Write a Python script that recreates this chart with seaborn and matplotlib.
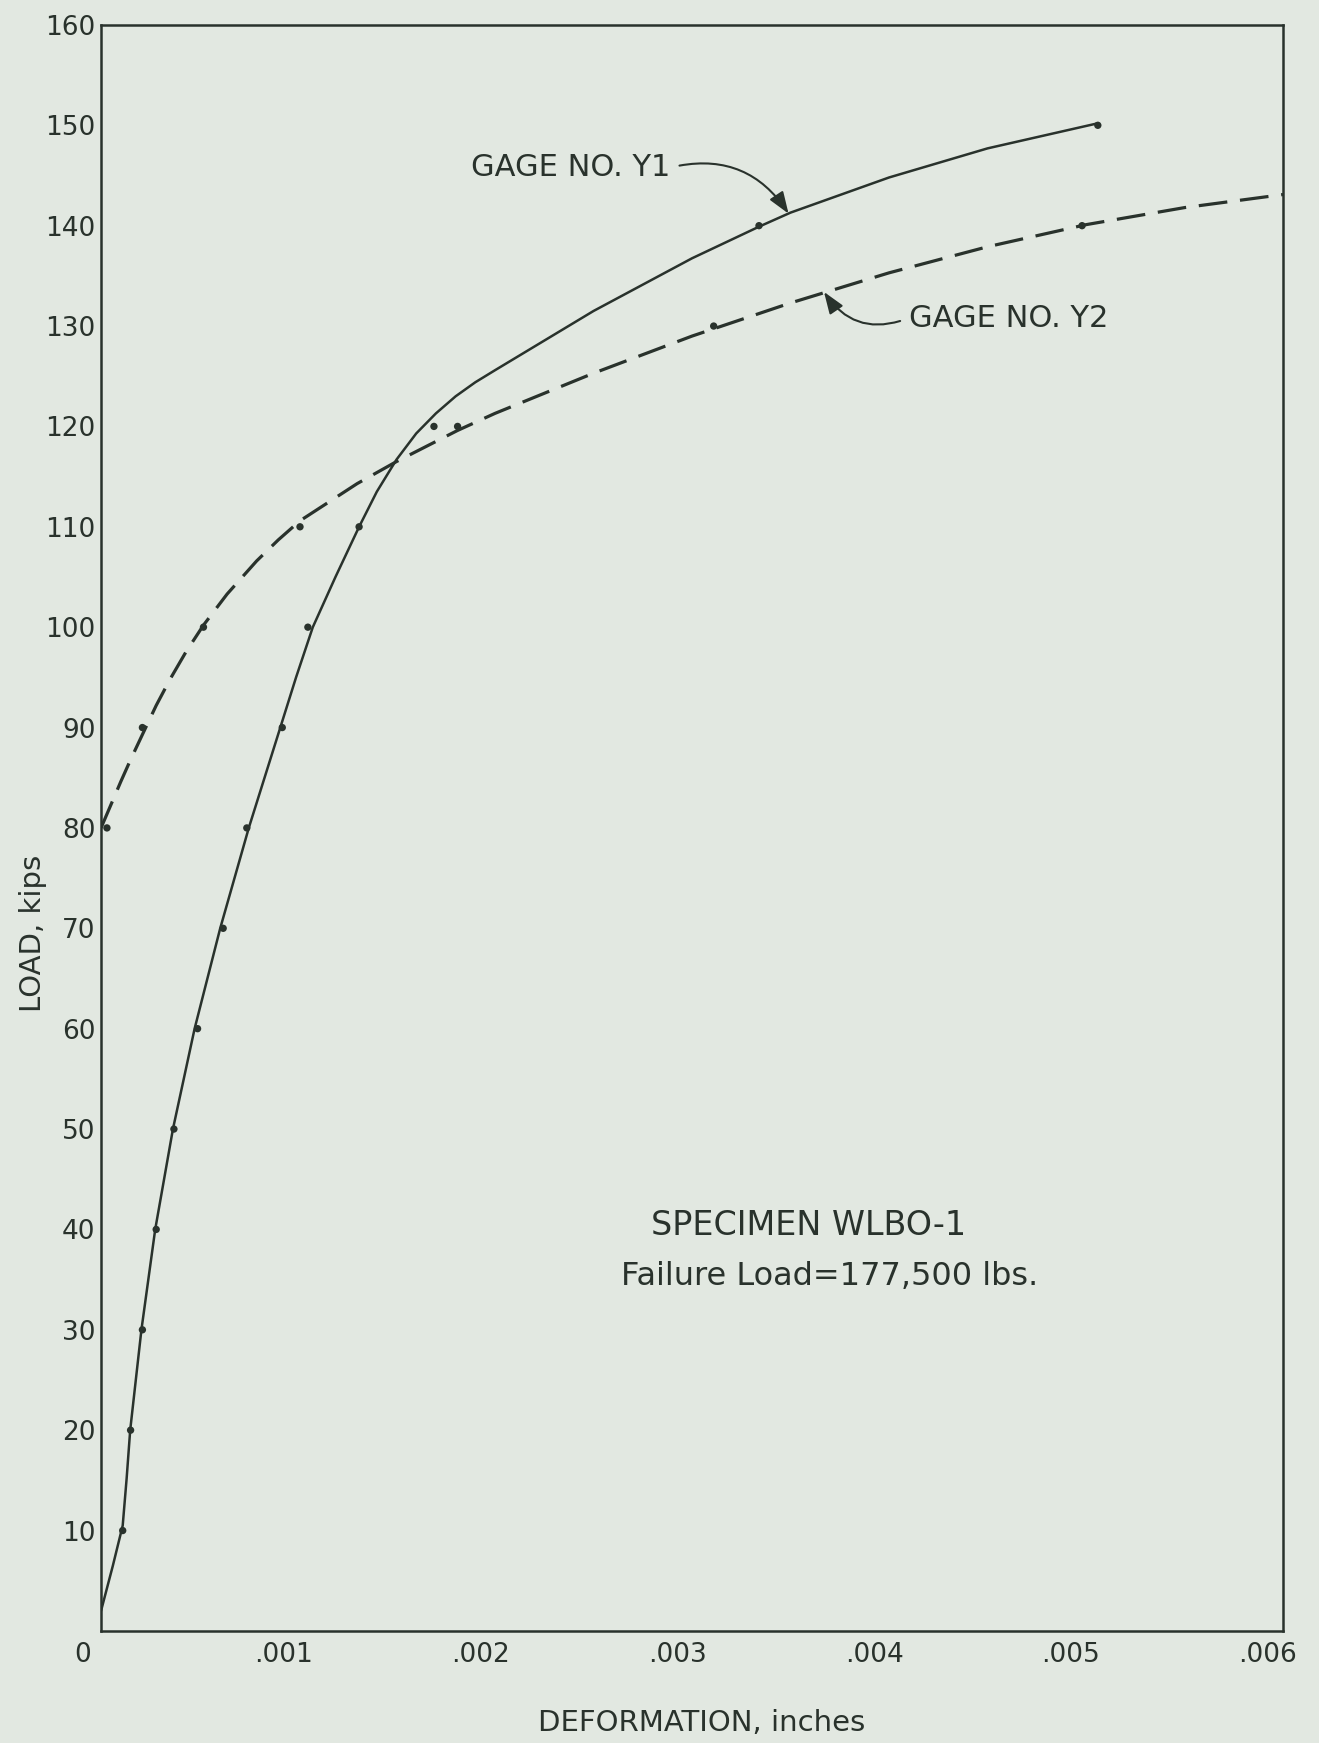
import numpy as np
import matplotlib
matplotlib.use("Agg")
import matplotlib.pyplot as plt
import matplotlib.transforms as mtransforms
import seaborn as sns
import pandas as pd

#---measured points (deformation in inches, load in kips)
y1_x = [0.00011, 0.00015, 0.00021, 0.00028, 0.00037, 0.00049, 0.00062,
        0.00074, 0.00092, 0.00105, 0.00131, 0.00169, 0.00334, 0.00506]
y1_load = [10, 20, 30, 40, 50, 60, 70, 80, 90, 100, 110, 120, 140, 150]

y2_x = [0.00003, 0.00021, 0.00052, 0.00101, 0.00181, 0.00311, 0.00498]
y2_load = [80, 90, 100, 110, 120, 130, 140]

#---hand drawn curves
y1_curve_x = [0.0, 0.00006, 0.00011, 0.00013, 0.000148, 0.000205, 0.000275, 0.000365,
              0.000475, 0.000605, 0.00075, 0.00091, 0.00099, 0.001075, 0.00119,
              0.00131, 0.0014, 0.0015, 0.0016, 0.0017, 0.0018, 0.0019, 0.0020,
              0.0025, 0.0030, 0.00334, 0.0035, 0.0040, 0.0045, 0.00506]
y1_curve_load = [2.0, 6.5, 10.5, 15.2, 20, 30, 40, 50, 60, 70, 80, 90, 95, 100, 105,
                 110, 113.5, 116.7, 119.3, 121.3, 123.0, 124.4, 125.6, 131.5, 136.75,
                 139.9, 141.3, 144.8, 147.7, 150.2]

y2_curve_x = [0.0, 0.00005, 0.0001, 0.00015, 0.00021, 0.00028, 0.00035, 0.00043,
              0.00052, 0.00064, 0.00079, 0.0009, 0.00101, 0.0013, 0.0015, 0.00181,
              0.0020, 0.0025, 0.0030, 0.0035, 0.0040, 0.0045, 0.0050, 0.0055, 0.0060]
y2_curve_load = [80, 82.3, 84.6, 86.8, 89.3, 92.2, 94.8, 97.5, 100.2, 103.3, 106.6,
                 108.7, 110.6, 114.3, 116.5, 119.6, 121.3, 125.3, 129.0, 132.3,
                 135.3, 137.9, 140.1, 141.8, 143.1]

x_ticks = [0, 0.001, 0.002, 0.003, 0.004, 0.005, 0.006]
x_tick_labels = ["0", ".001", ".002", ".003", ".004", ".005", ".006"]
y_ticks = [10, 20, 30, 40, 50, 60, 70, 80, 90, 100, 110, 120, 130, 140, 150, 160]

paper = "#e2e8e1"
ink = "#29322c"

sns.set_theme(style="white")
plt.rcParams['font.family'] = ['DejaVu Sans']

fig = plt.figure(figsize=(13.19, 17.43), dpi=100, facecolor=paper)
ax = fig.add_axes([0.0766, 0.0643, 0.8961, 0.9214])
ax.set_facecolor(paper)

df_y1 = pd.DataFrame({'x': y1_curve_x, 'load': y1_curve_load})
df_y2 = pd.DataFrame({'x': y2_curve_x, 'load': y2_curve_load})

sns.lineplot(data=df_y1, x='x', y='load', ax=ax, color=ink, lw=1.8,
             sort=False, estimator=None)
sns.lineplot(data=df_y2, x='x', y='load', ax=ax, color=ink, lw=2.3,
             sort=False, estimator=None)
ax.lines[-1].set_linestyle((0, (9, 4)))
for ln in ax.lines:
    ln.set_solid_joinstyle('round')
    ln.set_dash_joinstyle('round')

sns.scatterplot(x=y1_x, y=y1_load, ax=ax, color=ink, s=28, edgecolor='none', zorder=5)
sns.scatterplot(x=y2_x, y=y2_load, ax=ax, color=ink, s=28, edgecolor='none', zorder=5)

ax.set_xlim(0, 0.006)
ax.set_ylim(0, 160)
ax.set_xticks(x_ticks)
ax.set_xticklabels(x_tick_labels)
ax.set_yticks(y_ticks)
ax.set_yticklabels([str(v) for v in y_ticks])
ax.tick_params(axis='both', direction='in', length=11, width=1.6, colors=ink,
               labelsize=19, labelcolor=ink)
ax.tick_params(axis='x', pad=8)
ax.tick_params(axis='y', pad=4)

# hand lettered labels sit a bit left of their ticks
for i, lbl in enumerate(ax.get_xticklabels()):
    dx = -0.18 if i == 0 else -0.15
    lbl.set_transform(lbl.get_transform() +
                      mtransforms.ScaledTranslation(dx, 0, fig.dpi_scale_trans))

for sp in ax.spines.values():
    sp.set_visible(True)
    sp.set_color(ink)
    sp.set_linewidth(1.8)

ax.set_xlabel("DEFORMATION, inches", fontsize=21, color=ink, va='center')
ax.xaxis.set_label_coords(0.508, -0.0573)
ax.set_ylabel("LOAD, kips", fontsize=21, color=ink, va='center')
ax.yaxis.set_label_coords(-0.0575, 0.4346)

# gage labels with curly leaders
ax.annotate("GAGE NO. Y1", xy=(0.00349, 141.2), xytext=(0.00188, 145.8),
            fontsize=22, color=ink, ha='left', va='center',
            arrowprops=dict(arrowstyle='-|>,head_length=0.6,head_width=0.22',
                            color=ink, lw=1.5, relpos=(1, 0.5), shrinkA=4, shrinkB=0,
                            connectionstyle='arc3,rad=-0.35'))
ax.annotate("GAGE NO. Y2", xy=(0.00367, 133.4), xytext=(0.0041, 130.8),
            fontsize=22, color=ink, ha='left', va='center',
            arrowprops=dict(arrowstyle='-|>,head_length=0.6,head_width=0.22',
                            color=ink, lw=1.5, relpos=(0, 0.5), shrinkA=4, shrinkB=0,
                            connectionstyle='arc3,rad=-0.4'))

ax.text(0.00359, 40.4, "SPECIMEN WLBO-1", fontsize=24, color=ink,
        ha='center', va='center')
ax.text(0.00370, 35.3, "Failure Load=177,500 lbs.", fontsize=23, color=ink,
        ha='center', va='center')

fig.savefig("out.png", dpi=100, facecolor=paper)
